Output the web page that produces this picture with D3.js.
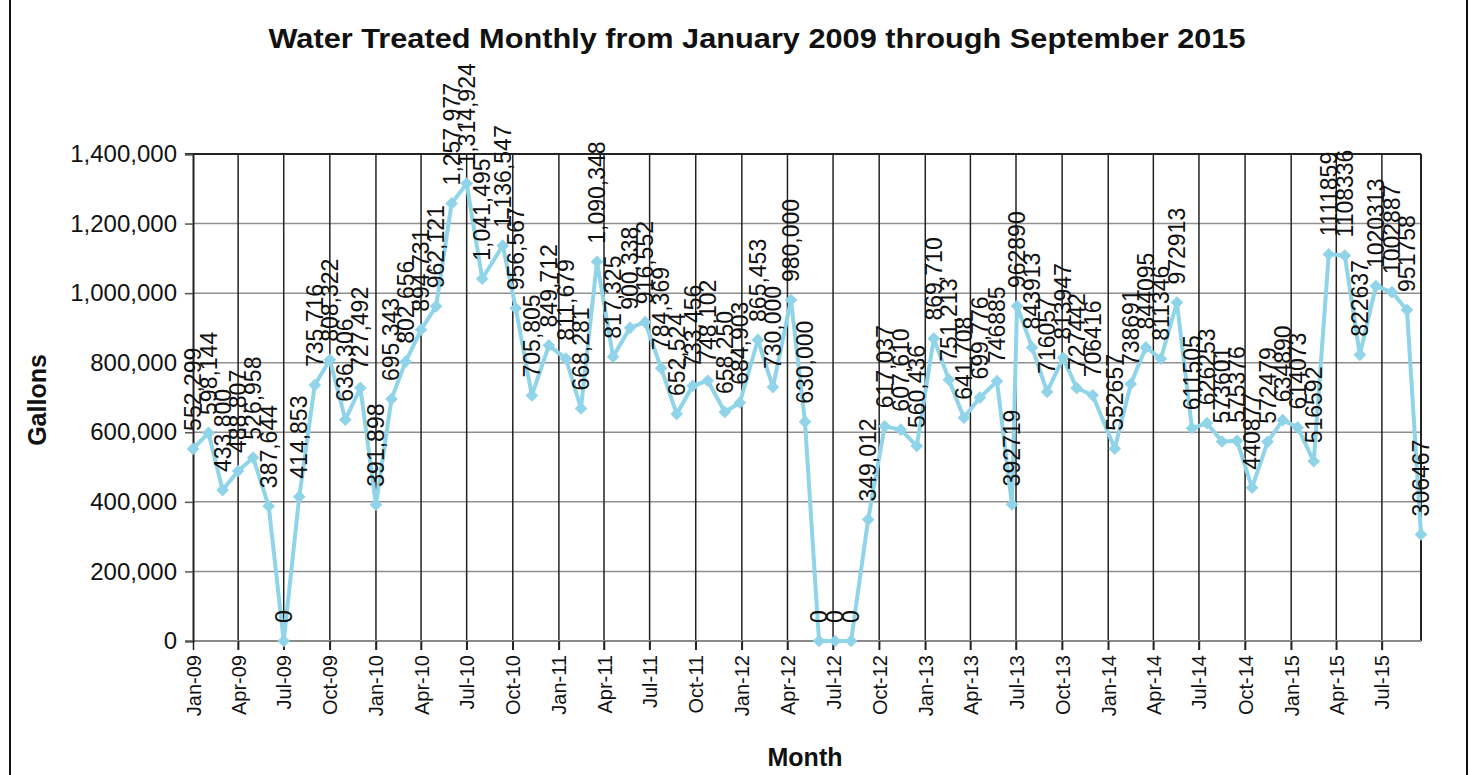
<!DOCTYPE html>
<html>
<head>
<meta charset="utf-8">
<script src="https://cdn.jsdelivr.net/npm/d3@7"></script>
<style>
  body { margin: 0; background: #fff; }
  svg text { font-family: "Liberation Sans", Arial, sans-serif; fill: #111; }
</style>
</head>
<body>
<svg width="1476" height="775"></svg>
<script>
(function() {
    'use strict';

// reading dates (the chart uses a date axis)
var readDates = [
  "2009-01-01","2009-02-01","2009-03-01","2009-04-01","2009-05-01","2009-06-01",
  "2009-07-01","2009-08-01","2009-09-01","2009-10-01","2009-11-01","2009-12-01",
  "2010-01-01","2010-02-01","2010-03-01","2010-04-01","2010-05-01","2010-06-01",
  "2010-07-01","2010-08-01","2010-09-11","2010-10-07","2010-11-08","2010-12-12",
  "2011-01-15","2011-02-14","2011-03-18","2011-04-19","2011-05-23","2011-06-22",
  "2011-07-24","2011-08-24","2011-09-25","2011-10-25","2011-11-28","2011-12-28",
  "2012-02-02","2012-03-03","2012-04-08","2012-05-06","2012-06-03","2012-07-05",
  "2012-08-06","2012-09-09","2012-10-12","2012-11-13","2012-12-15","2013-01-18",
  "2013-02-17","2013-03-19","2013-04-20","2013-05-24","2013-06-23","2013-07-03",
  "2013-08-02","2013-09-01","2013-10-03","2013-10-30","2013-12-01","2014-01-14",
  "2014-02-15","2014-03-17","2014-04-16","2014-05-18","2014-06-17","2014-07-17",
  "2014-08-16","2014-09-15","2014-10-15","2014-11-15","2014-12-15","2015-01-14",
  "2015-02-15","2015-03-17","2015-04-18","2015-05-18","2015-06-19","2015-07-21",
  "2015-08-20","2015-09-17"
];

// gallons treated
var gallons = [
  552299, 598144, 433800, 488807, 526958, 387644,
  0, 414853, 735716, 808322, 636306, 727492,
  391898, 695343, 802656, 894731, 962121, 1257977,
  1314924, 1041495, 1136547, 956567, 705805, 849712,
  811679, 668281, 1090348, 817325, 900338, 916552,
  784369, 652524, 733456, 748102, 658250, 684903,
  865453, 730000, 980000, 630000, 0, 0,
  0, 349012, 617037, 607610, 560436, 869710,
  751213, 641708, 699776, 746885, 392719, 962890,
  843913, 716057, 813947, 727442, 706416, 552657,
  738691, 844095, 811346, 972913, 611505, 626253,
  573601, 575376, 440877, 572479, 634890, 614073,
  516592, 1111859, 1108336, 822637, 1020313, 1002887,
  951758, 306467
];

// labels from this date on were typed without thousands separators
var plainLabelsFrom = "2013-05-24";

var yTicks = [0, 200000, 400000, 600000, 800000, 1000000, 1200000, 1400000];

var titleText = "Water Treated Monthly from January 2009 through September 2015";

var parse = d3.timeParse("%Y-%m-%d");
var data = readDates.map(function(d, i) {
  return {date: parse(d), value: gallons[i], plain: d >= plainLabelsFrom};
});

var svg = d3.select("svg");
var left = 193, right = 1421, top = 154, bottom = 641;

var x = d3.scaleTime()
    .domain(d3.extent(data, function(d) { return d.date; }))
    .range([left, right]);
var y = d3.scaleLinear().domain([0, 1400000]).range([bottom, top]);

var xTicks = d3.timeMonth.every(3).range(parse("2009-01-01"), x.domain()[1]);

// outer frame (only the sides show in the picture)
svg.append("line").attr("x1", 10).attr("x2", 10).attr("y1", 0).attr("y2", 775)
   .attr("stroke", "#111").attr("stroke-width", 2);
svg.append("line").attr("x1", 1467).attr("x2", 1467).attr("y1", 0).attr("y2", 775)
   .attr("stroke", "#111").attr("stroke-width", 2);

// horizontal grid
svg.append("g").selectAll("line")
   .data(yTicks.slice(1, -1))
   .enter().append("line")
   .attr("x1", left).attr("x2", right)
   .attr("y1", function(d) { return y(d); }).attr("y2", function(d) { return y(d); })
   .attr("stroke", "#909090").attr("stroke-width", 1.5);

// vertical grid
svg.append("g").selectAll("line")
   .data(xTicks.slice(1))
   .enter().append("line")
   .attr("x1", function(d) { return x(d); }).attr("x2", function(d) { return x(d); })
   .attr("y1", top).attr("y2", bottom + 9)
   .attr("stroke", "#222").attr("stroke-width", 1.5);

// frame of plot
svg.append("line").attr("x1", left - 8).attr("x2", right).attr("y1", top).attr("y2", top)
   .attr("stroke", "#222").attr("stroke-width", 2);
svg.append("line").attr("x1", right).attr("x2", right).attr("y1", top).attr("y2", bottom)
   .attr("stroke", "#222").attr("stroke-width", 2);
svg.append("line").attr("x1", left).attr("x2", right).attr("y1", bottom).attr("y2", bottom)
   .attr("stroke", "#8a8a8a").attr("stroke-width", 2);

// y axis
var yAxis = svg.append("g")
   .attr("transform", "translate(" + left + ",0)")
   .call(d3.axisLeft(y).tickValues(yTicks).tickFormat(d3.format(",")).tickSize(8).tickPadding(8));
yAxis.select(".domain").attr("stroke", "#222").attr("stroke-width", 2);
yAxis.selectAll(".tick line").attr("stroke", "#555").attr("stroke-width", 1.5);
yAxis.selectAll("text").style("font-size", "24px").attr("fill", "#111")
     .style("font-family", "'Liberation Sans', Arial, sans-serif");

// x axis
var xAxis = svg.append("g")
   .attr("transform", "translate(0," + bottom + ")")
   .call(d3.axisBottom(x).tickValues(xTicks).tickFormat(d3.timeFormat("%b-%y")).tickSize(9));
xAxis.select(".domain").remove();
xAxis.selectAll(".tick line").attr("stroke", "#222").attr("stroke-width", 1.5);
xAxis.selectAll("text")
     .style("font-size", "20px").attr("fill", "#111")
     .style("font-family", "'Liberation Sans', Arial, sans-serif")
     .attr("text-anchor", "end")
     .attr("dy", null).attr("y", 0)
     .attr("transform", "translate(7,14) rotate(-90)");

// line + markers
var line = d3.line()
    .x(function(d) { return x(d.date); })
    .y(function(d) { return y(d.value); });

svg.append("path")
   .datum(data)
   .attr("fill", "none")
   .attr("stroke", "#8fd4e8")
   .attr("stroke-width", 4)
   .attr("stroke-linejoin", "round")
   .attr("d", line);

svg.append("g").selectAll("path")
   .data(data)
   .enter().append("path")
   .attr("d", d3.symbol(d3.symbolSquare, 80))
   .attr("fill", "#8fd4e8")
   .attr("transform", function(d) {
     return "translate(" + x(d.date) + "," + y(d.value) + ") rotate(45)";
   });

// data labels, rotated, above each point
var comma = d3.format(",");
svg.append("g").selectAll("text")
   .data(data)
   .enter().append("text")
   .attr("text-anchor", "start")
   .style("font-size", "23px")
   .attr("transform", function(d) {
     return "translate(" + (x(d.date) + 8) + "," + (y(d.value) - 18) + ") rotate(-90)";
   })
   .text(function(d) { return d.plain ? String(d.value) : comma(d.value); });

// titles
svg.append("text")
   .attr("x", 757).attr("y", 48)
   .attr("text-anchor", "middle")
   .attr("textLength", 977).attr("lengthAdjust", "spacingAndGlyphs")
   .style("font-size", "27px").style("font-weight", "bold")
   .text(titleText);

svg.append("text")
   .attr("x", 805).attr("y", 766)
   .attr("text-anchor", "middle")
   .style("font-size", "25px").style("font-weight", "bold")
   .text("Month");

svg.append("text")
   .attr("transform", "translate(46,400) rotate(-90)")
   .attr("text-anchor", "middle")
   .style("font-size", "25px").style("font-weight", "bold")
   .text("Gallons");

})();
</script>
</body>
</html>
